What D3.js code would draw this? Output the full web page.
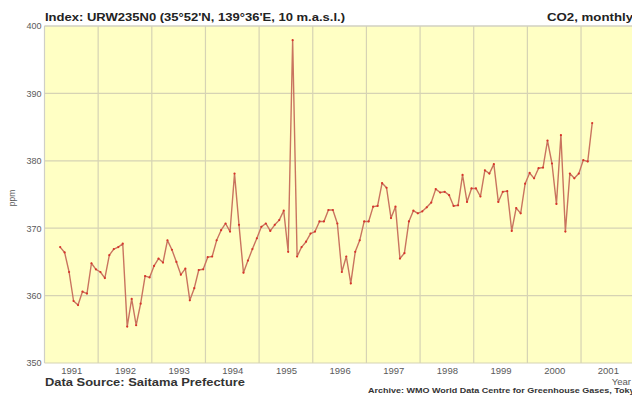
<!DOCTYPE html>
<html>
<head>
<meta charset="utf-8">
<script src="https://cdn.jsdelivr.net/npm/d3@7"></script>
<style>
  html, body { margin: 0; padding: 0; background: #ffffff; }
  svg { display: block; font-family: "Liberation Sans", Arial, sans-serif; }
</style>
</head>
<body>
<svg id="chart" width="632" height="396"></svg>
<script>
// Monthly mean CO2 (ppm), Saitama (URW), starting October 1990
const firstYear = 1990;
const firstMonth = 10; // October
const co2 = [
  367.2, 366.4, 363.5,
  359.2, 358.6, 360.6, 360.3, 364.8, 363.9, 363.5, 362.6, 366.0, 366.9, 367.2, 367.7,
  355.4, 359.5, 355.6, 358.8, 362.9, 362.7, 364.4, 365.5, 364.9, 368.2, 366.8, 365.0,
  363.1, 364.0, 359.3, 361.1, 363.8, 363.9, 365.7, 365.8, 368.2, 369.7, 370.7, 369.5,
  378.1, 370.5, 363.4, 365.2, 366.9, 368.5, 370.2, 370.7, 369.6, 370.5, 371.2, 372.6,
  366.5, 397.9, 365.8, 367.2, 368.0, 369.2, 369.5, 371.0, 371.0, 372.7, 372.7, 370.7,
  363.5, 365.8, 361.8, 366.5, 368.2, 371.0, 371.0, 373.2, 373.3, 376.7, 376.0, 371.5,
  373.2, 365.5, 366.3, 371.0, 372.6, 372.2, 372.5, 373.1, 373.8, 375.8, 375.3, 375.4,
  374.9, 373.3, 373.4, 377.9, 373.9, 375.9, 375.9, 374.7, 378.6, 378.1, 379.5, 373.9,
  375.4, 375.5, 369.6, 373.0, 372.2, 376.6, 378.2, 377.4, 378.9, 379.0, 383.0, 379.6,
  373.6, 383.8, 369.5, 378.1, 377.4, 378.1, 380.1, 379.9, 385.6
];
const yearTicks = [1991, 1992, 1993, 1994, 1995, 1996, 1997, 1998, 1999, 2000, 2001];
const ppmTicks = [350, 360, 370, 380, 390, 400];

const titleLeft = "Index: URW235N0 (35\u00b052'N, 139\u00b036'E, 10 m.a.s.l.)";
const titleRight = "CO2, monthly";
const sourceText = "Data Source: Saitama Prefecture";
const archiveText = "Archive: WMO World Data Centre for Greenhouse Gases, Tokyo";

// each value sits at the middle of its month, on a decimal-year axis
const series = co2.map((v, i) => {
  const m = firstMonth - 1 + i;
  return { t: firstYear + Math.floor(m / 12) + ((m % 12) + 0.5) / 12, v };
});

const svg = d3.select("#chart");
const plot = { left: 44.5, right: 632, top: 26, bottom: 363 };

const x = d3.scaleLinear().domain([1990.5, 2001.45]).range([plot.left, plot.right]);
const y = d3.scaleLinear().domain([350, 400]).range([plot.bottom, plot.top]);

// plot background
svg.append("rect")
  .attr("x", plot.left).attr("y", plot.top)
  .attr("width", plot.right - plot.left).attr("height", plot.bottom - plot.top)
  .attr("fill", "#ffffc4");

// grid: vertical lines at mid-year, horizontal at every 10 ppm
const grid = svg.append("g").attr("stroke", "#d6d3b4").attr("stroke-width", 1.2);
grid.selectAll("line.v")
  .data(yearTicks.map(d => d - 0.5))
  .join("line")
  .attr("class", "v")
  .attr("x1", d => x(d)).attr("x2", d => x(d))
  .attr("y1", plot.top).attr("y2", plot.bottom);
grid.selectAll("line.h")
  .data(ppmTicks)
  .join("line")
  .attr("class", "h")
  .attr("x1", plot.left).attr("x2", plot.right)
  .attr("y1", d => y(d)).attr("y2", d => y(d));

// y axis labels
const yAxis = svg.append("g")
  .attr("transform", `translate(${plot.left},0)`)
  .call(d3.axisLeft(y).tickValues(ppmTicks).tickSize(0).tickPadding(3).tickFormat(d3.format("d")));
yAxis.select(".domain").remove();
yAxis.selectAll("text").attr("font-size", 9).attr("fill", "#5a5a5a")
  .attr("font-family", "'Liberation Sans', Arial, sans-serif");

// x axis labels
const xAxis = svg.append("g")
  .attr("transform", `translate(0,${plot.bottom})`)
  .call(d3.axisBottom(x).tickValues(yearTicks).tickSize(0).tickPadding(4).tickFormat(d3.format("d")));
xAxis.select(".domain").remove();
xAxis.selectAll("text").attr("font-size", 9.5).attr("fill", "#5a5a5a")
  .attr("font-family", "'Liberation Sans', Arial, sans-serif");

// data line and month markers
const line = d3.line().x(d => x(d.t)).y(d => y(d.v));
svg.append("path")
  .datum(series)
  .attr("fill", "none")
  .attr("stroke", "#c9745f")
  .attr("stroke-width", 1.4)
  .attr("stroke-linejoin", "round")
  .attr("d", line);
svg.append("g").selectAll("circle")
  .data(series)
  .join("circle")
  .attr("cx", d => x(d.t)).attr("cy", d => y(d.v))
  .attr("r", 1.1)
  .attr("fill", "#d8342a");

// plot frame (top/left)
svg.append("path")
  .attr("d", `M${plot.left},${plot.bottom}V${plot.top}H${plot.right}`)
  .attr("fill", "none").attr("stroke", "#cfcfc8").attr("stroke-width", 1);

// titles and notes
svg.append("text").attr("x", 45).attr("y", 21)
  .attr("font-size", 11.5).attr("font-weight", "bold").attr("fill", "#222")
  .attr("textLength", 300).attr("lengthAdjust", "spacingAndGlyphs")
  .text(titleLeft);
svg.append("text").attr("x", 547).attr("y", 21)
  .attr("font-size", 11.5).attr("font-weight", "bold").attr("fill", "#222")
  .attr("textLength", 86).attr("lengthAdjust", "spacingAndGlyphs")
  .text(titleRight);
svg.append("text")
  .attr("transform", `translate(15,${y(374.5)}) rotate(-90)`)
  .attr("text-anchor", "middle")
  .attr("font-size", 8.5).attr("fill", "#5a5a5a")
  .text("ppm");
svg.append("text").attr("x", 631).attr("y", 385).attr("text-anchor", "end")
  .attr("font-size", 9.5).attr("fill", "#5a5a5a")
  .text("Year");
svg.append("text").attr("x", 45).attr("y", 385.5)
  .attr("font-size", 11.8).attr("font-weight", "bold").attr("fill", "#333")
  .attr("textLength", 200).attr("lengthAdjust", "spacingAndGlyphs")
  .text(sourceText);
svg.append("text").attr("x", 368).attr("y", 393)
  .attr("font-size", 7.2).attr("font-weight", "bold").attr("fill", "#333")
  .attr("textLength", 272).attr("lengthAdjust", "spacingAndGlyphs")
  .text(archiveText);
</script>
</body>
</html>
